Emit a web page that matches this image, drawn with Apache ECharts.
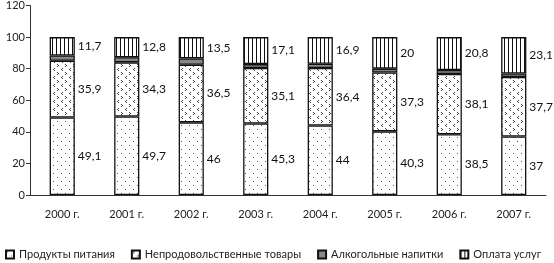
<!DOCTYPE html>
<html><head><meta charset="utf-8">
<script src="https://cdn.jsdelivr.net/npm/echarts@6/dist/echarts.min.js"></script>
<style>html,body{margin:0;padding:0;background:#fff}#c{width:554px;height:263px}</style>
</head><body><div id="c"></div>
<script>
var categories = ['2000 г.','2001 г.','2002 г.','2003 г.','2004 г.','2005 г.','2006 г.','2007 г.'];
var seriesNames = ['Продукты питания','Непродовольственные товары','Алкогольные напитки','Оплата услуг'];
var food = [49.1, 49.7, 46, 45.3, 44, 40.3, 38.5, 37];
var nonFood = [35.9, 34.3, 36.5, 35.1, 36.4, 37.3, 38.1, 37.7];
var alcohol = [3.3, 3.2, 4.0, 2.5, 2.7, 2.4, 2.6, 2.2];
var services = [11.7, 12.8, 13.5, 17.1, 16.9, 20, 20.8, 23.1];
var yTicks = [0, 20, 40, 60, 80, 100, 120];

function makePattern(w, h, draw) {
  var c = document.createElement('canvas');
  c.width = w; c.height = h;
  var ctx = c.getContext('2d');
  ctx.fillStyle = '#fff'; ctx.fillRect(0, 0, w, h);
  draw(ctx);
  return {image: c, repeat: 'repeat'};
}
var foodPat = makePattern(8, 8, function (ctx) {
  ctx.fillStyle = '#555';
  ctx.fillRect(1, 1, 1, 1);
  ctx.fillRect(5, 5, 1, 1);
});
var nonFoodPat = makePattern(8, 8, function (ctx) {
  ctx.fillStyle = '#444';
  ctx.fillRect(1, 0, 1, 1); ctx.fillRect(2, 1, 1, 1); ctx.fillRect(1, 2, 1, 1);
  ctx.fillRect(6, 4, 1, 1); ctx.fillRect(5, 5, 1, 1); ctx.fillRect(6, 6, 1, 1);
});
var servPat = makePattern(4, 4, function (ctx) {
  ctx.fillStyle = '#111';
  ctx.fillRect(0, 0, 1, 4);
});

var FONT = 'Lato';
var fmt = function (p) { return String(p.value).replace('.', ','); };
var lbl = {show: true, position: 'right', distance: 3, color: '#111', fontSize: 12, fontFamily: FONT, formatter: fmt};
var border = {borderColor: '#111', borderWidth: 1.3};

var chart = echarts.init(document.getElementById('c'));
chart.setOption({
  animation: false,
  textStyle: {fontFamily: FONT},
  grid: {left: 30, right: 8, top: 5, bottom: 68},
  legend: {
    top: 244, left: 0, width: 900, itemWidth: 8, itemHeight: 8, itemGap: 16,
    textStyle: {fontSize: 11, color: '#222', fontFamily: FONT},
    data: seriesNames.map(function (n) { return {name: n, icon: 'rect'}; })
  },
  xAxis: {
    type: 'category', data: categories,
    axisLine: {lineStyle: {color: '#333'}},
    axisTick: {length: 4, lineStyle: {color: '#333'}},
    axisLabel: {color: '#222', fontSize: 11, margin: 14}
  },
  yAxis: {
    type: 'value', min: 0, max: 120, interval: 20,
    splitLine: {show: false},
    axisLine: {show: true, lineStyle: {color: '#333'}},
    axisTick: {show: true, length: 4, lineStyle: {color: '#333'}},
    axisLabel: {color: '#222', fontSize: 11, margin: 5}
  },
  series: [
    {name: seriesNames[0], type: 'bar', stack: 's', barWidth: '39%', data: food,
     itemStyle: Object.assign({color: foodPat}, border), label: lbl},
    {name: seriesNames[1], type: 'bar', stack: 's', data: nonFood,
     itemStyle: Object.assign({color: nonFoodPat}, border), label: lbl},
    {name: seriesNames[2], type: 'bar', stack: 's', data: alcohol,
     itemStyle: Object.assign({color: '#888'}, border), label: {show: false}},
    {name: seriesNames[3], type: 'bar', stack: 's', data: services,
     itemStyle: Object.assign({color: servPat}, border), label: lbl}
  ]
});
</script></body></html>
